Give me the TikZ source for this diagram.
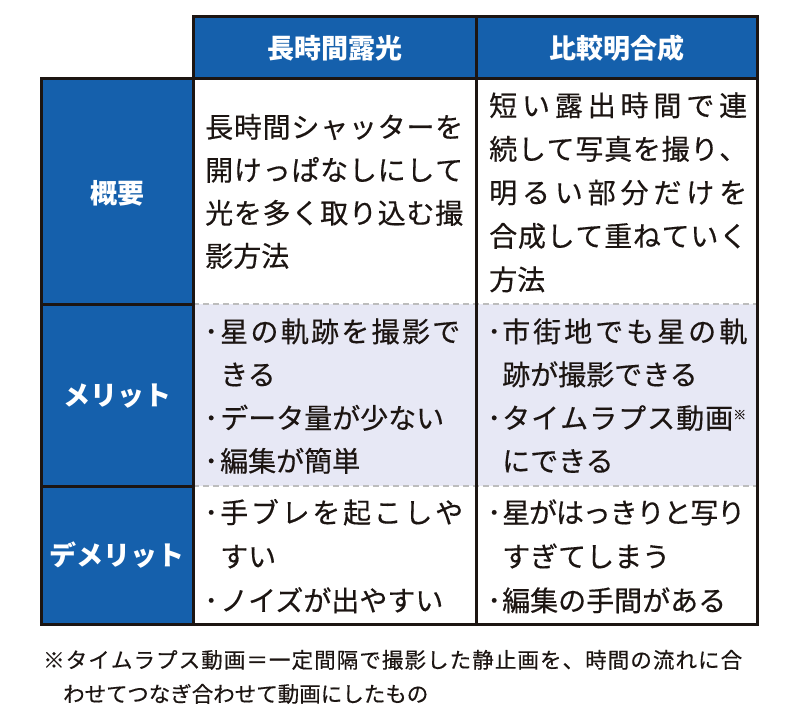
\documentclass[tikz,border=0pt]{standalone}
\usepackage{fontspec}
\setmainfont{Noto Sans CJK JP}
\newfontfamily\bodyfont{Noto Sans CJK JP}[FakeBold=0.4]
\definecolor{hblue}{HTML}{1560AC}
\definecolor{lav}{HTML}{E7E8F5}
\definecolor{inkc}{HTML}{1C1512}
\definecolor{dgray}{HTML}{BDBDBD}
\makeatletter
\def\spreadchars#1{\sp@first#1\sp@end}
\def\sp@first#1{#1\sp@next}
\def\sp@next#1{\ifx#1\sp@end\else\hskip0pt plus1fil minus3pt\relax#1\expandafter\sp@next\fi}
\makeatother
\newcommand\jfill[2]{\makebox[#1pt][s]{\spreadchars{#2}}}
\tikzset{
  body/.style={anchor=base west, inner sep=0pt, text=inkc, font=\bodyfont\fontsize{28}{30}\selectfont},
  bulletmark/.style={anchor=base west, inner sep=0pt, text=inkc, font=\bodyfont\fontsize{28}{30}\selectfont},
  head/.style={anchor=base, inner sep=0pt, text=white, font=\fontsize{27}{30}\selectfont\bfseries},
  note/.style={anchor=base west, inner sep=0pt, text=inkc, font=\bodyfont\fontsize{21.5}{24}\selectfont},
  frame/.style={draw=inkc, line width=3pt},
  dashsep/.style={draw=dgray, line width=2.5pt, dash pattern=on 6pt off 4pt}
}
\begin{document}
\begin{tikzpicture}[x=1pt,y=-1pt]
\useasboundingbox (0,0) rectangle (791,723);
% fills
\fill[hblue] (193,16) rectangle (757,78);
\fill[hblue] (41,78) rectangle (193,624);
\fill[lav] (193,304) rectangle (757,486);
% dashed separators
\draw[dashsep] (193,304) -- (757,304);
\draw[dashsep] (193,486) -- (757,486);
% frame lines
\draw[frame] (193,78) -- (193,16) -- (757,16) -- (757,624) -- (41,624) -- (41,78) -- (757,78);
\draw[frame] (193,16) -- (193,624);
\draw[frame] (476,16) -- (476,624);
\draw[frame] (41,304) -- (193,304);
\draw[frame] (41,486) -- (193,486);
% headers
\node[head] (h1) at (334.5,58) {長時間露光};
\node[head] (h2) at (616.5,58) {比較明合成};
\node[head] (r1) at (117,203.5) {概要};
\node[head] (r2) at (117,405.5) {メリット};
\node[head] (r3) at (117,565.5) {デメリット};
% row 1, column 1
\node[body] (a1) at (205,137.5) {\jfill{258}{長時間シャッターを}};
\node[body] (a2) at (205,180.5) {\jfill{258}{開けっぱなしにして}};
\node[body] (a3) at (205,223.5) {\jfill{258}{光を多く取り込む撮}};
\node[body] (a4) at (205,266.5) {影方法};
% row 1, column 2
\node[body] (b1) at (489,116) {\jfill{258}{短い露出時間で連}};
\node[body] (b2) at (489,159.5) {\jfill{258}{続して写真を撮り、}};
\node[body] (b3) at (489,203) {\jfill{258}{明るい部分だけを}};
\node[body] (b4) at (489,246.5) {\jfill{258}{合成して重ねていく}};
\node[body] (b5) at (489,290) {方法};
% row 2, column 1
\node[bulletmark] (c1b) at (204,342) {･};
\node[body] (c1) at (220,342) {\jfill{240}{星の軌跡を撮影で}};
\node[body] (c2) at (220,385) {きる};
\node[bulletmark] (c3b) at (204,428.5) {･};
\node[body] (c3) at (220,428.5) {データ量が少ない};
\node[bulletmark] (c4b) at (204,471.5) {･};
\node[body] (c4) at (220,471.5) {編集が簡単};
% row 2, column 2
\node[bulletmark] (d1b) at (487,342) {･};
\node[body] (d1) at (502,342) {\jfill{245}{市街地でも星の軌}};
\node[body] (d2) at (502,385) {跡が撮影できる};
\node[bulletmark] (d3b) at (487,428.5) {･};
\node[body] (d3) at (502,428.5) {\jfill{231}{タイムラプス動画}\raisebox{9pt}{\fontsize{13}{13}\selectfont ※}};
\node[body] (d4) at (502,471.5) {にできる};
% row 3, column 1
\node[bulletmark] (e1b) at (204,523) {･};
\node[body] (e1) at (220,523) {\jfill{243}{手ブレを起こしや}};
\node[body] (e2) at (220,567) {すい};
\node[bulletmark] (e3b) at (204,611) {･};
\node[body] (e3) at (220,611) {ノイズが出やすい};
% row 3, column 2
\node[bulletmark] (f1b) at (487,523) {･};
\node[body] (f1) at (502,523) {\jfill{243}{星がはっきりと写り}};
\node[body] (f2) at (502,567) {すぎてしまう};
\node[bulletmark] (f3b) at (487,611) {･};
\node[body] (f3) at (502,611) {編集の手間がある};
% footnote
\node[note] (n1) at (43,668) {\jfill{699}{※タイムラプス動画＝一定間隔で撮影した静止画を、時間の流れに合}};
\node[note] (n2) at (63,702) {わせてつなぎ合わせて動画にしたもの};
\end{tikzpicture}
\end{document}
